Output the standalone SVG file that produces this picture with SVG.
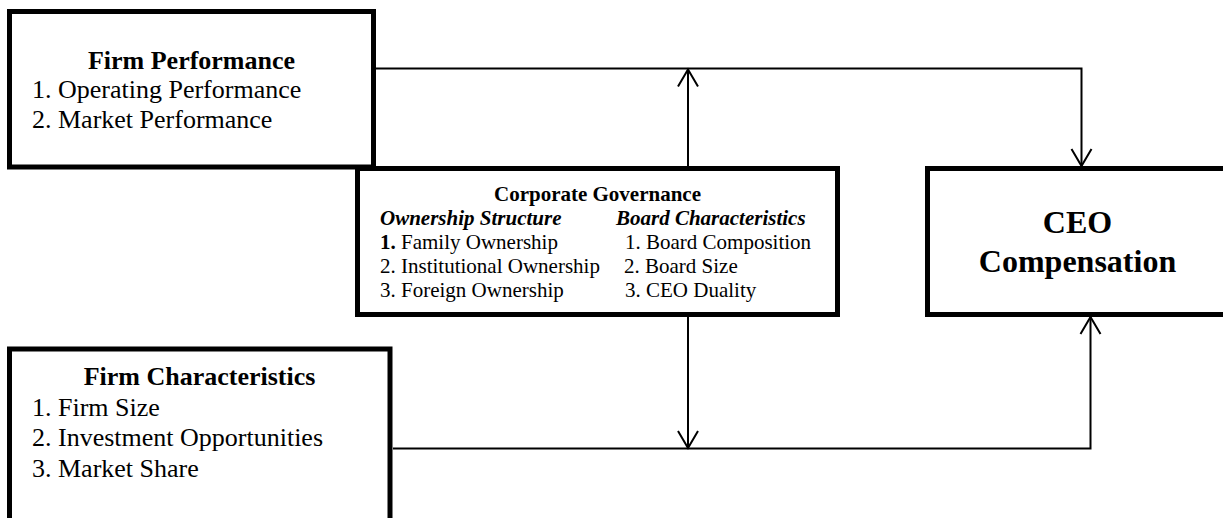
<svg xmlns="http://www.w3.org/2000/svg" width="1223" height="518" viewBox="0 0 1223 518">
<style>
.box{fill:#fff;stroke:#000;stroke-width:5}
.con{fill:none;stroke:#000;stroke-width:2}
text{font-family:"Liberation Serif","Times New Roman",serif;fill:#000}
.t{font-size:26px;font-weight:bold}
.i{font-size:26px}
.gt{font-size:21px;font-weight:bold}
.gs{font-size:21px;font-weight:bold;font-style:italic}
.gi{font-size:21px}
.ceo{font-size:32px;font-weight:bold}
</style>
<defs>
<marker id="arr" markerWidth="24" markerHeight="24" refX="20" refY="12" orient="auto" markerUnits="userSpaceOnUse">
<path d="M3,2 L20,12 L3,22" fill="none" stroke="#000" stroke-width="2"/>
</marker>
</defs>
<rect width="1223" height="518" fill="#fff"/>
<g id="connectors">
<path class="con" d="M376,68.5 H1081.5 V166" marker-end="url(#arr)"/>
<path class="con" d="M688,166 V69.5" marker-end="url(#arr)"/>
<path class="con" d="M688,317 V448" marker-end="url(#arr)"/>
<path class="con" d="M393,448.5 H1090.5 V317" marker-end="url(#arr)"/>
</g>
<g id="firm-performance">
<rect class="box" x="9.5" y="11.5" width="364" height="155.5"/>
<text class="t" x="191.5" y="69" text-anchor="middle">Firm Performance</text>
<text class="i" x="32" y="98">1. Operating Performance</text>
<text class="i" x="32" y="128">2. Market Performance</text>
</g>
<g id="corporate-governance">
<rect class="box" x="357.5" y="168.5" width="480" height="146"/>
<text class="gt" x="597.5" y="200.5" text-anchor="middle">Corporate Governance</text>
<text class="gs" x="380" y="225">Ownership Structure</text>
<text class="gi" x="380" y="249"><tspan font-weight="bold">1.</tspan> Family Ownership</text>
<text class="gi" x="380" y="273">2. Institutional Ownership</text>
<text class="gi" x="380" y="297">3. Foreign Ownership</text>
<text class="gs" x="616" y="225">Board Characteristics</text>
<text class="gi" x="625" y="249">1. Board Composition</text>
<text class="gi" x="624" y="273">2. Board Size</text>
<text class="gi" x="625" y="297">3. CEO Duality</text>
</g>
<g id="ceo-compensation">
<rect class="box" x="927.5" y="168.5" width="303" height="146"/>
<text class="ceo" x="1077.5" y="233" text-anchor="middle">CEO</text>
<text class="ceo" x="1077.5" y="272" text-anchor="middle">Compensation</text>
</g>
<g id="firm-characteristics">
<rect class="box" x="9.5" y="349" width="380.5" height="190"/>
<text class="t" x="199.5" y="385" text-anchor="middle">Firm Characteristics</text>
<text class="i" x="32" y="415.5">1. Firm Size</text>
<text class="i" x="32" y="446">2. Investment Opportunities</text>
<text class="i" x="32" y="476.5">3. Market Share</text>
</g>
</svg>
